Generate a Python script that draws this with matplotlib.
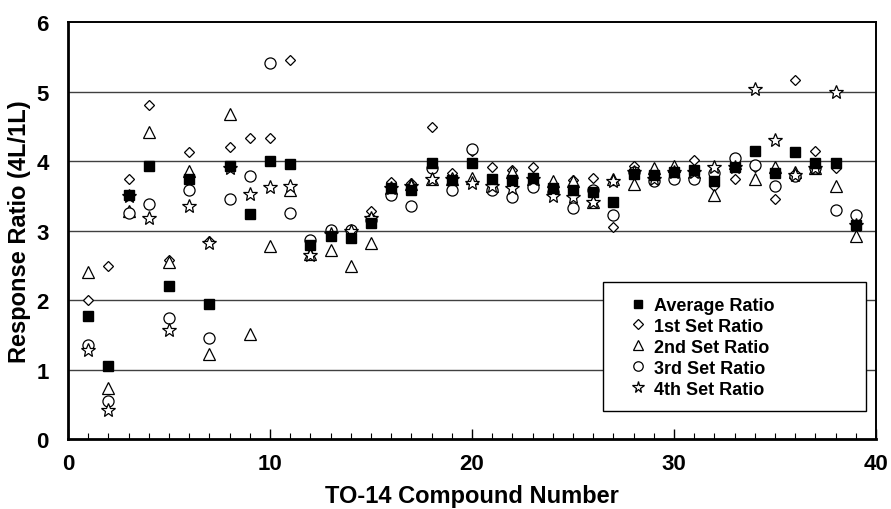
#!/usr/bin/env python3
"""Scatter of 4L/1L response ratios for the TO-14 compounds."""

import matplotlib

matplotlib.use("Agg")
import matplotlib.pyplot as plt
from matplotlib.patches import Rectangle

compound = list(range(1, 40))

average_ratio = [1.78, 1.05, 3.51, 3.93, 2.21, 3.75, 1.94, 3.93, 3.24, 4.00,
                 3.96, 2.80, 2.92, 2.90, 3.11, 3.61, 3.59, 3.97, 3.73, 3.98,
                 3.75, 3.73, 3.76, 3.61, 3.58, 3.55, 3.42, 3.82, 3.80, 3.85,
                 3.87, 3.72, 3.92, 4.15, 3.83, 4.13, 3.97, 3.97, 3.08]
set1_ratio = [2.00, 2.50, 3.74, 4.80, 2.58, 4.13, 2.85, 4.20, 4.33, 4.33,
              5.45, 2.78, 2.98, 3.01, 3.28, 3.70, 3.68, 4.49, 3.83, 4.15,
              3.91, 3.88, 3.92, 3.66, 3.73, 3.76, 3.06, 3.93, 3.84, 3.88,
              4.02, 3.65, 3.75, 3.92, 3.46, 5.16, 4.15, 3.90, 3.08]
set2_ratio = [2.41, 0.74, 3.29, 4.42, 2.55, 3.86, 1.23, 4.68, 1.52, 2.78,
              3.58, 2.67, 2.73, 2.49, 2.82, 3.62, 3.67, 3.74, 3.75, 3.76,
              3.65, 3.84, 3.75, 3.72, 3.72, 3.41, 3.74, 3.67, 3.90, 3.93,
              3.85, 3.52, 3.97, 3.75, 3.92, 3.85, 3.90, 3.64, 2.93]
set3_ratio = [1.36, 0.56, 3.26, 3.39, 1.74, 3.58, 1.46, 3.46, 3.79, 5.41,
              3.26, 2.87, 3.01, 3.01, 3.15, 3.51, 3.36, 3.90, 3.59, 4.17,
              3.58, 3.49, 3.63, 3.56, 3.33, 3.58, 3.22, 3.84, 3.71, 3.74,
              3.75, 3.83, 4.05, 3.94, 3.64, 3.78, 3.90, 3.30, 3.22]
set4_ratio = [1.29, 0.42, 3.50, 3.18, 1.57, 3.35, 2.82, 3.90, 3.53, 3.63,
              3.65, 2.65, 2.95, 3.00, 3.18, 3.62, 3.65, 3.75, 3.75, 3.69,
              3.65, 3.62, 3.75, 3.50, 3.48, 3.41, 3.72, 3.84, 3.75, 3.85,
              3.85, 3.91, 3.91, 5.03, 4.31, 3.80, 3.90, 5.00, 3.08]

series_labels = ["Average Ratio", "1st Set Ratio", "2nd Set Ratio",
                 "3rd Set Ratio", "4th Set Ratio"]


def main() -> int:
    plt.rcParams["font.family"] = ["Liberation Sans", "DejaVu Sans"]
    plt.rcParams["font.weight"] = "bold"
    plt.rcParams["axes.labelweight"] = "bold"

    fig = plt.figure(figsize=(8.91, 5.10), dpi=100)
    ax = fig.add_axes([0.0763, 0.1363, 0.9068, 0.8186])

    # open markers first, the filled average squares sit on top
    styles = [
        (set1_ratio, "D", 5.5),
        (set2_ratio, "^", 8.0),
        (set3_ratio, "o", 8.0),
        (set4_ratio, "*", 10.0),
    ]
    handles = {}
    for (values, marker, size), label in zip(styles, series_labels[1:]):
        (h,) = ax.plot(compound, values, linestyle="none", marker=marker,
                       markersize=size, markerfacecolor="white",
                       markeredgecolor="black", markeredgewidth=0.9,
                       zorder=3, label=label)
        handles[label] = h
    (h,) = ax.plot(compound, average_ratio, linestyle="none", marker="s",
                   markersize=7.5, color="black", zorder=4,
                   label=series_labels[0])
    handles[series_labels[0]] = h

    ax.set_xlim(0, 40)
    ax.set_ylim(0, 6)
    ax.set_xticks(range(0, 41, 10))
    ax.set_xticks(range(0, 41), minor=True)
    ax.set_yticks(range(0, 7))
    ax.tick_params(axis="x", which="major", direction="in", length=7,
                   width=1, pad=10, labelsize=16)
    ax.tick_params(axis="x", which="minor", direction="in", length=4,
                   width=0.8)
    ax.tick_params(axis="y", length=0, pad=14, labelsize=16)

    for y in range(1, 6):
        ax.axhline(y, color="0.25", linewidth=1.0, zorder=1)

    for side in ("left", "bottom"):
        ax.spines[side].set_linewidth(2.0)
    for side in ("top", "right"):
        ax.spines[side].set_linewidth(1.4)

    ax.set_xlabel("TO-14 Compound Number", fontsize=17, labelpad=7)
    ax.set_ylabel("Response Ratio (4L/1L)", fontsize=17, labelpad=4)

    # legend box is wider than its content in the original
    box = Rectangle((0.662, 0.068), 0.326, 0.309, transform=ax.transAxes,
                    facecolor="white", edgecolor="black", linewidth=1.0,
                    zorder=5)
    ax.add_patch(box)
    leg = ax.legend([handles[lab] for lab in series_labels], series_labels,
                    loc="upper left", bbox_to_anchor=(0.68, 0.372),
                    frameon=False, fontsize=13, handlelength=0.9,
                    handletextpad=0.4, labelspacing=0.22, borderpad=0.2,
                    markerscale=0.85)
    leg.set_zorder(6)

    fig.savefig("out.png", dpi=100)
    plt.close(fig)
    return 0


if __name__ == "__main__":
    raise SystemExit(main())
